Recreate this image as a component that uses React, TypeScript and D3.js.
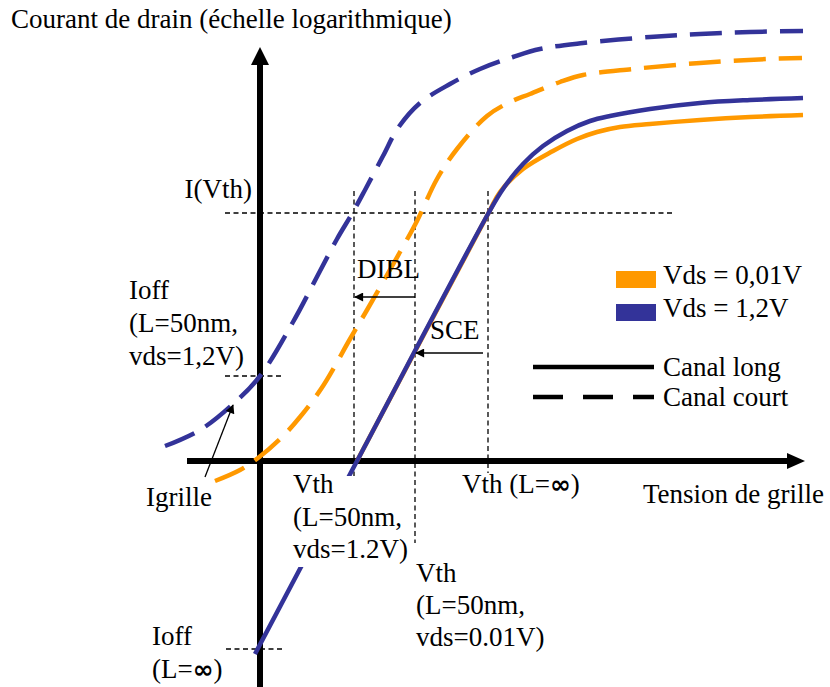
import React from 'react';
import * as d3 from 'd3';

// schematic units: x = gate voltage, y = log(drain current)
type Pt = [number, number];

const shortHigh: Pt[] = [
  [-0.95, 0.15], [-0.6, 0.31], [-0.27, 0.57], [0.0, 0.85], [0.33, 1.39], [0.6, 1.9],
  [0.77, 2.22], [0.93, 2.49], [1.05, 2.71], [1.23, 3.05], [1.38, 3.33], [1.6, 3.58],
  [1.9, 3.77], [2.2, 3.92], [2.53, 4.04], [2.8, 4.12], [3.23, 4.18], [3.9, 4.24],
  [4.4, 4.27], [4.9, 4.29], [5.43, 4.3],
];
const shortLow: Pt[] = [
  [-0.45, -0.2], [-0.2, -0.09], [-0.02, 0.03], [0.23, 0.25], [0.4, 0.44], [0.63, 0.75],
  [0.9, 1.22], [1.07, 1.51], [1.23, 1.79], [1.4, 2.09], [1.57, 2.4], [1.77, 2.82],
  [1.97, 3.12], [2.27, 3.45], [2.5, 3.59], [2.7, 3.67], [3.0, 3.79], [3.23, 3.86],
  [3.73, 3.92], [4.4, 3.98], [5.07, 4.02], [5.42, 4.03],
];
const longHigh: Pt[] = [
  [-0.05, -1.93], [0.97, 0], [2.28, 2.47], [2.43, 2.72], [2.63, 2.97], [2.83, 3.15],
  [3.07, 3.3], [3.3, 3.4], [3.5, 3.45], [3.9, 3.52], [4.4, 3.58], [4.9, 3.61], [5.43, 3.63],
];
const longLow: Pt[] = [
  [0.97, 0], [2.28, 2.47], [2.4, 2.69], [2.63, 2.92], [2.93, 3.1], [3.17, 3.22],
  [3.37, 3.29], [3.6, 3.34], [3.9, 3.37], [4.4, 3.41], [4.9, 3.44], [5.43, 3.46],
];

// reference levels
const iVth = 2.48;
const ioffShort = 0.85;
const ioffLong = -1.88;
const vthShortHigh = 0.94;
const vthShortLow = 1.55;
const vthLong = 2.28;

const legendColors = ['Vds = 0,01V', 'Vds = 1,2V'];
const legendLines = ['Canal long', 'Canal court'];

const ORANGE = '#ff9900';
const BLUE = '#333399';
const FONT = '"Liberation Serif", "Times New Roman", serif';

export default function App() {
  const width = 830;
  const height = 687;
  const x = d3.scaleLinear().domain([0, 1]).range([260, 360]);
  const y = d3.scaleLinear().domain([0, 1]).range([461, 361]);

  const line = d3.line<Pt>()
    .x(d => x(d[0]))
    .y(d => y(d[1]))
    .curve(d3.curveCatmullRom.alpha(0.5));

  const thin = { stroke: '#000', strokeWidth: 1.3, strokeDasharray: '5 3.5', fill: 'none' };
  const txt = { fontFamily: FONT, fontSize: 27, fill: '#000' } as const;

  const multi = (lines: React.ReactNode[], x0: number, y0: number, dy = 32) => (
    <text x={x0} y={y0} style={txt}>
      {lines.map((l, i) => (
        <tspan key={i} x={x0} dy={i === 0 ? 0 : dy}>{l}</tspan>
      ))}
    </text>
  );
  const inf = <tspan fontFamily='"DejaVu Sans", sans-serif' fontWeight="bold" fontSize={25}>∞</tspan>;

  return (
    <svg width={width} height={height} style={{ position: 'absolute', left: 0, top: 0, background: '#fff' }}>
      <defs>
        <marker id="ah" viewBox="0 0 10 10" refX="9" refY="5" markerWidth="11" markerHeight="9"
          markerUnits="userSpaceOnUse" orient="auto">
          <path d="M0,0 L10,5 L0,10 z" fill="#000" />
        </marker>
      </defs>

      {/* axes */}
      <line x1={x(0)} x2={x(0)} y1={y(4.0)} y2={height} stroke="#000" strokeWidth={6} />
      <path d={`M${x(0)},${y(4.14)} L${x(0) + 9},${y(3.96)} L${x(0) - 9},${y(3.96)} Z`} fill="#000" />
      <line x1={x(-0.73)} x2={x(5.3)} y1={y(0)} y2={y(0)} stroke="#000" strokeWidth={6} />
      <path d={`M${x(5.45)},${y(0)} L${x(5.27)},${y(0) - 8} L${x(5.27)},${y(0) + 8} Z`} fill="#000" />

      {/* reference dashed lines */}
      <line x1={x(-0.35)} x2={x(4.12)} y1={y(iVth)} y2={y(iVth)} style={thin} />
      <line x1={x(vthShortHigh)} x2={x(vthShortHigh)} y1={y(2.7)} y2={y(-0.2)} style={thin} />
      <line x1={x(vthShortLow)} x2={x(vthShortLow)} y1={y(2.7)} y2={y(-0.82)} style={thin} />
      <line x1={x(vthLong)} x2={x(vthLong)} y1={y(2.7)} y2={y(-0.12)} style={thin} />
      <line x1={x(-0.35)} x2={x(0.23)} y1={y(ioffShort)} y2={y(ioffShort)} style={thin} />
      <line x1={x(-0.34)} x2={x(0.23)} y1={y(ioffLong)} y2={y(ioffLong)} style={thin} />

      {/* curves */}
      <path d={line(longLow) || ''} fill="none" stroke={ORANGE} strokeWidth={4.5} />
      <path d={line(longHigh) || ''} fill="none" stroke={BLUE} strokeWidth={4.5} />
      <path d={line(shortLow) || ''} fill="none" stroke={ORANGE} strokeWidth={4.5} strokeDasharray="32 13" />
      <path d={line(shortHigh) || ''} fill="none" stroke={BLUE} strokeWidth={4.5} strokeDasharray="32 13" />

      {/* annotation arrows */}
      <line x1={x(vthShortLow)} x2={x(vthShortHigh) + 1} y1={y(1.64)} y2={y(1.64)} stroke="#000" strokeWidth={1.3} markerEnd="url(#ah)" />
      <line x1={x(2.23)} x2={x(vthShortLow) + 1} y1={y(1.08)} y2={y(1.08)} stroke="#000" strokeWidth={1.3} markerEnd="url(#ah)" />
      <line x1={x(-0.55)} x2={x(-0.27)} y1={y(-0.16)} y2={y(0.56)} stroke="#000" strokeWidth={1.3} markerEnd="url(#ah)" />

      {/* texts */}
      <text x={11} y={28} style={txt}>Courant de drain (échelle logarithmique)</text>
      <text x={x(-0.08)} y={y(iVth) - 15} textAnchor="end" style={txt}>I(Vth)</text>
      <text x={357} y={278} style={txt}>DIBL</text>
      <text x={430} y={339} style={txt}>SCE</text>
      {multi(['Ioff', '(L=50nm,', 'vds=1,2V)'], 129, 299, 33)}
      <text x={146} y={506} style={txt}>Igrille</text>
      <rect x={288} y={476} width={120} height={91} fill="#fff" />
      {multi(['Vth', '(L=50nm,', 'vds=1.2V)'], 293, 493, 32.5)}
      <text x={462} y={493} style={txt}>Vth (L={inf})</text>
      {multi(['Vth', '(L=50nm,', 'vds=0.01V)'], 416, 582, 32)}
      {multi(['Ioff', <>(L={inf})</>], 152, 645, 33)}
      <text x={643} y={503} style={txt}>Tension de grille</text>

      {/* legend */}
      {legendColors.map((t, i) => (
        <g key={t}>
          <rect x={616} y={271 + i * 33} width={40} height={17} fill={i === 0 ? ORANGE : BLUE} />
          <text x={663} y={284 + i * 33} style={txt}>{t}</text>
        </g>
      ))}
      {legendLines.map((t, i) => (
        <g key={t}>
          <line x1={533} x2={654} y1={367 + i * 30} y2={367 + i * 30} stroke="#000" strokeWidth={4.5}
            strokeDasharray={i === 1 ? '30 20' : undefined} />
          <text x={663} y={376 + i * 30} style={txt}>{t}</text>
        </g>
      ))}
    </svg>
  );
}
